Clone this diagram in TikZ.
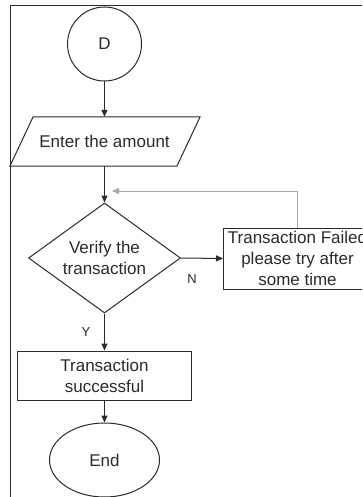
\documentclass[tikz,border=0pt]{standalone}
\usepackage{fontspec}
\setmainfont{Liberation Sans}
\usetikzlibrary{shapes.geometric,arrows.meta}
\definecolor{ink}{HTML}{2B2B2B}
\definecolor{loopline}{HTML}{A8A8A8}
\begin{document}
\begin{tikzpicture}[x=1pt,y=-1pt,
  font=\fontsize{17}{21}\selectfont, text=ink,
  every node/.style={inner sep=0pt, align=center},
  flow/.style={draw=ink, line width=1pt},
  arr/.style={flow, -{Triangle[length=7pt,width=6pt]}},
  proc/.style={draw=ink, line width=1pt, rectangle},
  lbl/.style={font=\fontsize{13}{13}\selectfont}]
  \useasboundingbox (0,0) rectangle (362,497);
  \clip (0,0) rectangle (362,497);
  \fill[white] (0,0) rectangle (362,497);

  % frame edges
  \draw[ink, line width=1pt] (10,497) -- (10,6) -- (362,6);

  % start connector
  \node[circle, draw=ink, line width=1pt, minimum size=74pt] (d) at (104.5,44) {D};

  % input parallelogram
  \node[minimum width=167pt, minimum height=49pt] (amount) at (104.5,141.5) {Enter the amount};
  \draw[flow] (10,166) -- (33,117) -- (200,117) -- (177,166) -- cycle;

  % decision
  \node[diamond, draw=ink, line width=1pt, minimum width=152pt, minimum height=110pt,
        aspect=1.38] (verify) at (104.5,258) {Verify the\\transaction};

  % failure message
  \node[proc, minimum width=148pt, minimum height=61pt] (fail) at (297.5,258.5)
       {Transaction Failed\\please try after\\some time};

  % success message
  \node[proc, minimum width=174pt, minimum height=49pt] (ok) at (104.5,375.5)
       {Transaction\\successful};

  % terminator
  \node[ellipse, draw=ink, line width=1pt, minimum width=110pt, minimum height=74pt] (end) at (104.5,460) {End};

  % connectors
  \draw[arr] (d.south) -- (amount.north);
  \draw[arr] (amount.south) -- (verify.north);
  \draw[arr] (verify.east) -- (fail.west);
  \draw[arr] (verify.south) -- (ok.north);
  \draw[arr] (ok.south) -- (end.north);
  \coordinate (back) at (112,191);
  \draw[loopline, line width=1pt, -{Triangle[length=7pt,width=6pt]}]
       (fail.north) |- (back);

  % branch labels
  \node[lbl] (n) at (192,279) {N};
  \node[lbl] (y) at (86,332) {Y};
\end{tikzpicture}
\end{document}
